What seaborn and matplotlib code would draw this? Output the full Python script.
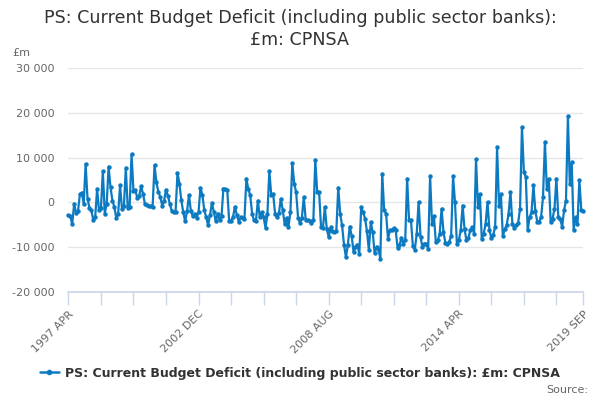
import pandas as pd
import numpy as np
import matplotlib.pyplot as plt
import seaborn as sns

# monthly values, 1997 APR .. 2019 SEP (£m)
values = [
    -2800, -3100, -4900, -300, -2300, -2000, 1800, 2200, -300, 8600,
    800, -1200, -1800, -3900, -3300, 3000, -1800, -1300, 7000, -2500,
    -300, 8000, 3400, 400, -1000, -3400, -2500, 3800, -1500, -800,
    7700, -1200, -1000, 10800, 2600, 2700, 1000, 1500, 3600, 1900,
    -400, -500, -800, -800, -1000, 8300, 4500, 2300, 1300, -700,
    400, 2800, 1500, -300, -1900, -2200, -2200, 6600, 4200, 500,
    -2200, -4200, -1900, 1600, -1900, -3100, -2500, -3400, -2200, 3300,
    1600, -1700, -3300, -5100, -2800, -100, -2200, -4200, -2500, -4000,
    -3100, 3100, 2900, 2800, -4200, -4100, -3300, -1000, -2800, -4300,
    -3300, -3400, -3600, 5300, 3000, 1600, -2500, -4000, -4100, 400,
    -3300, -2200, -3300, -5700, -2500, 7000, 1600, 1900, -2600, -3300,
    -2400, 800, -1700, -4800, -3400, -5400, -2200, 8800, 4200, 2300,
    -3400, -4600, -3400, 1200, -3900, -4000, -4100, -4600, -4000, 9500,
    2300, 2300, -5400, -5700, -1000, -5900, -7700, -5600, -6400, -6500,
    -6400, 3300, -2500, -5100, -9400, -12200, -9600, -5400, -7400, -11100,
    -10000, -9400, -11500, -1000, -2200, -3600, -6400, -10600, -4400, -6600,
    -11300, -9900, -10400, -12600, 6400, -1800, -2500, -8100, -6200, -6200,
    -5800, -6200, -10100, -9600, -7900, -9200, -8400, 5300, -4000, -4000,
    -9800, -10600, -7000, 100, -7700, -10000, -9200, -9200, -10400, 5900,
    -4800, -3100, -8900, -8500, -7000, -1400, -6700, -9000, -9200, -8800,
    -7400, 5800, 100, -9200, -8500, -6200, -700, -6000, -8500, -8000,
    -6200, -5500, -7000, 9600, -1000, 1900, -8100, -7000, -4800, 100,
    -6200, -7900, -7200, -5500, 12300, -700, 1800, -7500, -6000, -5100,
    -2500, 2300, -4800, -5700, -5100, -4600, -1400, 16800, 6800, 5700,
    -6200, -3300, -2200, 3800, -2000, -4300, -4300, -3300, 1200, 13500,
    3000, 5300, -4300, -3600, -1400, 5300, -3300, -3600, -5500, -1700,
    400, 19200, 4200, 9000, -6100, -3300, -4800, 4900, -1700, -1900,
]
months = [d.strftime('%Y %b').upper() for d in pd.date_range('1997-04-01', periods=len(values), freq='MS')]
y_ticks = [-20000, -10000, 0, 10000, 20000, 30000]

series_name = 'PS: Current Budget Deficit (including public sector banks): £m: CPNSA'
blue = '#0b7ac1'

df = pd.DataFrame({'idx': np.arange(len(values)), 'month': months, 'value': values})

sns.set_theme(style='white')
plt.rcParams['font.family'] = ['DejaVu Sans']

fig, ax = plt.subplots(figsize=(6, 4), dpi=100)
fig.subplots_adjust(left=0.114, right=0.972, top=0.83, bottom=0.27)

sns.lineplot(data=df, x='idx', y='value', color=blue, linewidth=1.6,
             marker='o', markersize=3.2, markeredgewidth=0, ax=ax, clip_on=False)

last = len(values) - 1
ax.set_xlim(0, last)
ax.set_ylim(-20000, 30000)
ax.set_yticks(y_ticks)
ax.set_yticklabels([f'{v:,}'.replace(',', ' ') for v in y_ticks], color='#666666', fontsize=8)
ax.yaxis.grid(True, color='#e6e6e6', linewidth=1)
ax.set_axisbelow(True)

tick_pos = list(range(0, len(values), 17)) + [last]
ax.set_xticks(tick_pos)
ax.set_xticklabels([months[p] if (p % 68 == 0 or p == last) else '' for p in tick_pos],
                   rotation=45, ha='right', rotation_mode='anchor',
                   color='#666666', fontsize=8)
ax.tick_params(axis='x', length=9, width=1, color='#ccd6eb', pad=3, direction='out', bottom=True)
ax.tick_params(axis='y', length=0, pad=10)

for s in ['top', 'right', 'left']:
    ax.spines[s].set_visible(False)
ax.spines['bottom'].set_color('#ccd6eb')
ax.set_xlabel('')
ax.set_ylabel('')

fig.text(0.5, 0.927, 'PS: Current Budget Deficit (including public sector banks):\n£m: CPNSA',
         ha='center', va='center', fontsize=12.6, color='#333333', linespacing=1.25)
fig.text(0.02, 0.868, '£m', fontsize=8, color='#666666', va='center')

handle = plt.Line2D([], [], color=blue, linewidth=1.8, marker='o', markersize=3)
fig.legend([handle], [series_name], loc='center', bbox_to_anchor=(0.5, 0.067),
           frameon=False, handlelength=1.5, handletextpad=0.5,
           prop={'weight': 'bold', 'size': 9}, labelcolor='#333333')
fig.text(0.98, 0.025, 'Source:', ha='right', va='center', fontsize=8, color='#666666')

fig.savefig('out.png', dpi=100)
